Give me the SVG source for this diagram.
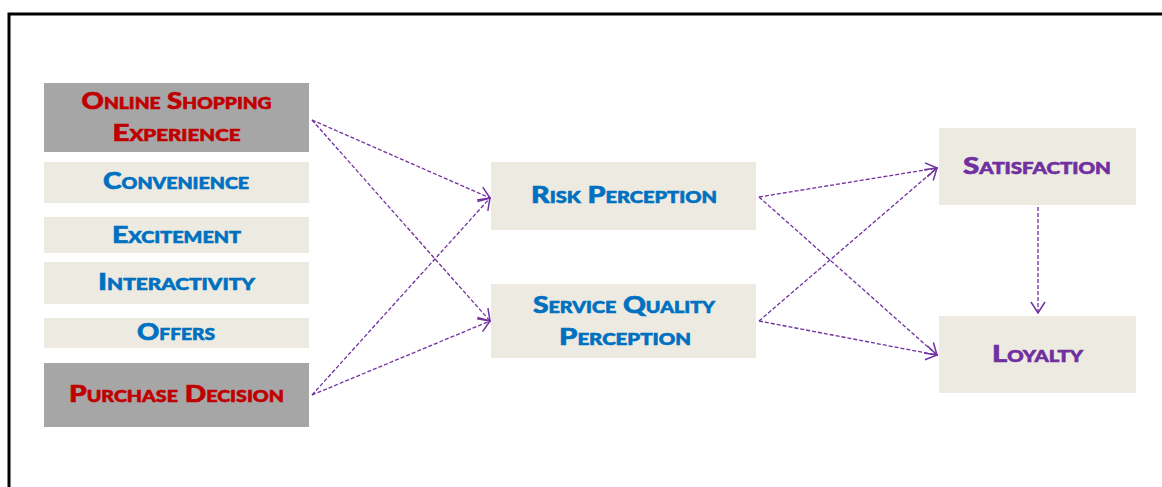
<svg xmlns="http://www.w3.org/2000/svg" width="1162" height="487" viewBox="0 0 1162 487">
<style>
.gray{fill:#a6a6a6}
.beige{fill:#edebe1}
text{font-family:Lato,"Liberation Sans",sans-serif;font-weight:900;font-variant:small-caps;font-size:23px;text-anchor:middle;stroke-width:0.6}
.red{fill:#c00000;stroke:#c00000}
.blue{fill:#0070c0;stroke:#0070c0}
.purple{fill:#7030a0;stroke:#7030a0}
.conn{fill:none;stroke:#7030a0;stroke-width:1.3;stroke-dasharray:4 2;marker-end:url(#arr)}
</style>
<defs>
<marker id="arr" markerUnits="userSpaceOnUse" markerWidth="13" markerHeight="16" refX="12" refY="8" orient="auto">
<path d="M1,1 L12,8 L1,15" fill="none" stroke="#7030a0" stroke-width="1.5"/>
</marker>
</defs>
<rect width="1162" height="487" fill="#ffffff"/>
<path d="M9,487 V14 H1162" fill="none" stroke="#000" stroke-width="3"/>
<g id="ose"><rect class="gray" x="44" y="83" width="265" height="69"/><text class="red" x="176.5" y="109" textLength="190" lengthAdjust="spacingAndGlyphs">Online Shopping</text><text class="red" x="176.5" y="141" textLength="128" lengthAdjust="spacingAndGlyphs">Experience</text></g>
<g id="convenience"><rect class="beige" x="44" y="162" width="265" height="41"/><text class="blue" x="176" y="189" textLength="146" lengthAdjust="spacingAndGlyphs">Convenience</text></g>
<g id="excitement"><rect class="beige" x="44" y="217" width="265" height="36"/><text class="blue" x="176.5" y="243" textLength="129" lengthAdjust="spacingAndGlyphs">Excitement</text></g>
<g id="interactivity"><rect class="beige" x="44" y="262" width="265" height="42"/><text class="blue" x="176.5" y="290" textLength="157" lengthAdjust="spacingAndGlyphs">Interactivity</text></g>
<g id="offers"><rect class="beige" x="44" y="318" width="265" height="30"/><text class="blue" x="176" y="340" textLength="78" lengthAdjust="spacingAndGlyphs">Offers</text></g>
<g id="purchase"><rect class="gray" x="44" y="363" width="265" height="64"/><text class="red" x="176.5" y="402" textLength="215" lengthAdjust="spacingAndGlyphs">Purchase Decision</text></g>
<g id="risk"><rect class="beige" x="491" y="162" width="265" height="68"/><text class="blue" x="624" y="203" textLength="186" lengthAdjust="spacingAndGlyphs">Risk Perception</text></g>
<g id="sqp"><rect class="beige" x="491" y="284" width="265" height="74"/><text class="blue" x="624" y="313" textLength="182" lengthAdjust="spacingAndGlyphs">Service Quality</text><text class="blue" x="625" y="345" textLength="132" lengthAdjust="spacingAndGlyphs">Perception</text></g>
<g id="satisfaction"><rect class="beige" x="939" y="128" width="197" height="77"/><text class="purple" x="1037" y="174" textLength="148" lengthAdjust="spacingAndGlyphs">Satisfaction</text></g>
<g id="loyalty"><rect class="beige" x="939" y="316" width="197" height="77"/><text class="purple" x="1037.5" y="362" textLength="91" lengthAdjust="spacingAndGlyphs">Loyalty</text></g>
<g id="connectors">
<path class="conn" d="M312,120 L490,198"/>
<path class="conn" d="M312,120 L490,321"/>
<path class="conn" d="M312,395 L490,198"/>
<path class="conn" d="M312,395 L490,321"/>
<path class="conn" d="M759,197 L937,168"/>
<path class="conn" d="M759,197 L937,355"/>
<path class="conn" d="M759,321 L937,168"/>
<path class="conn" d="M759,321 L937,355"/>
<path class="conn" d="M1038,207 L1038,313"/>
</g>
</svg>
